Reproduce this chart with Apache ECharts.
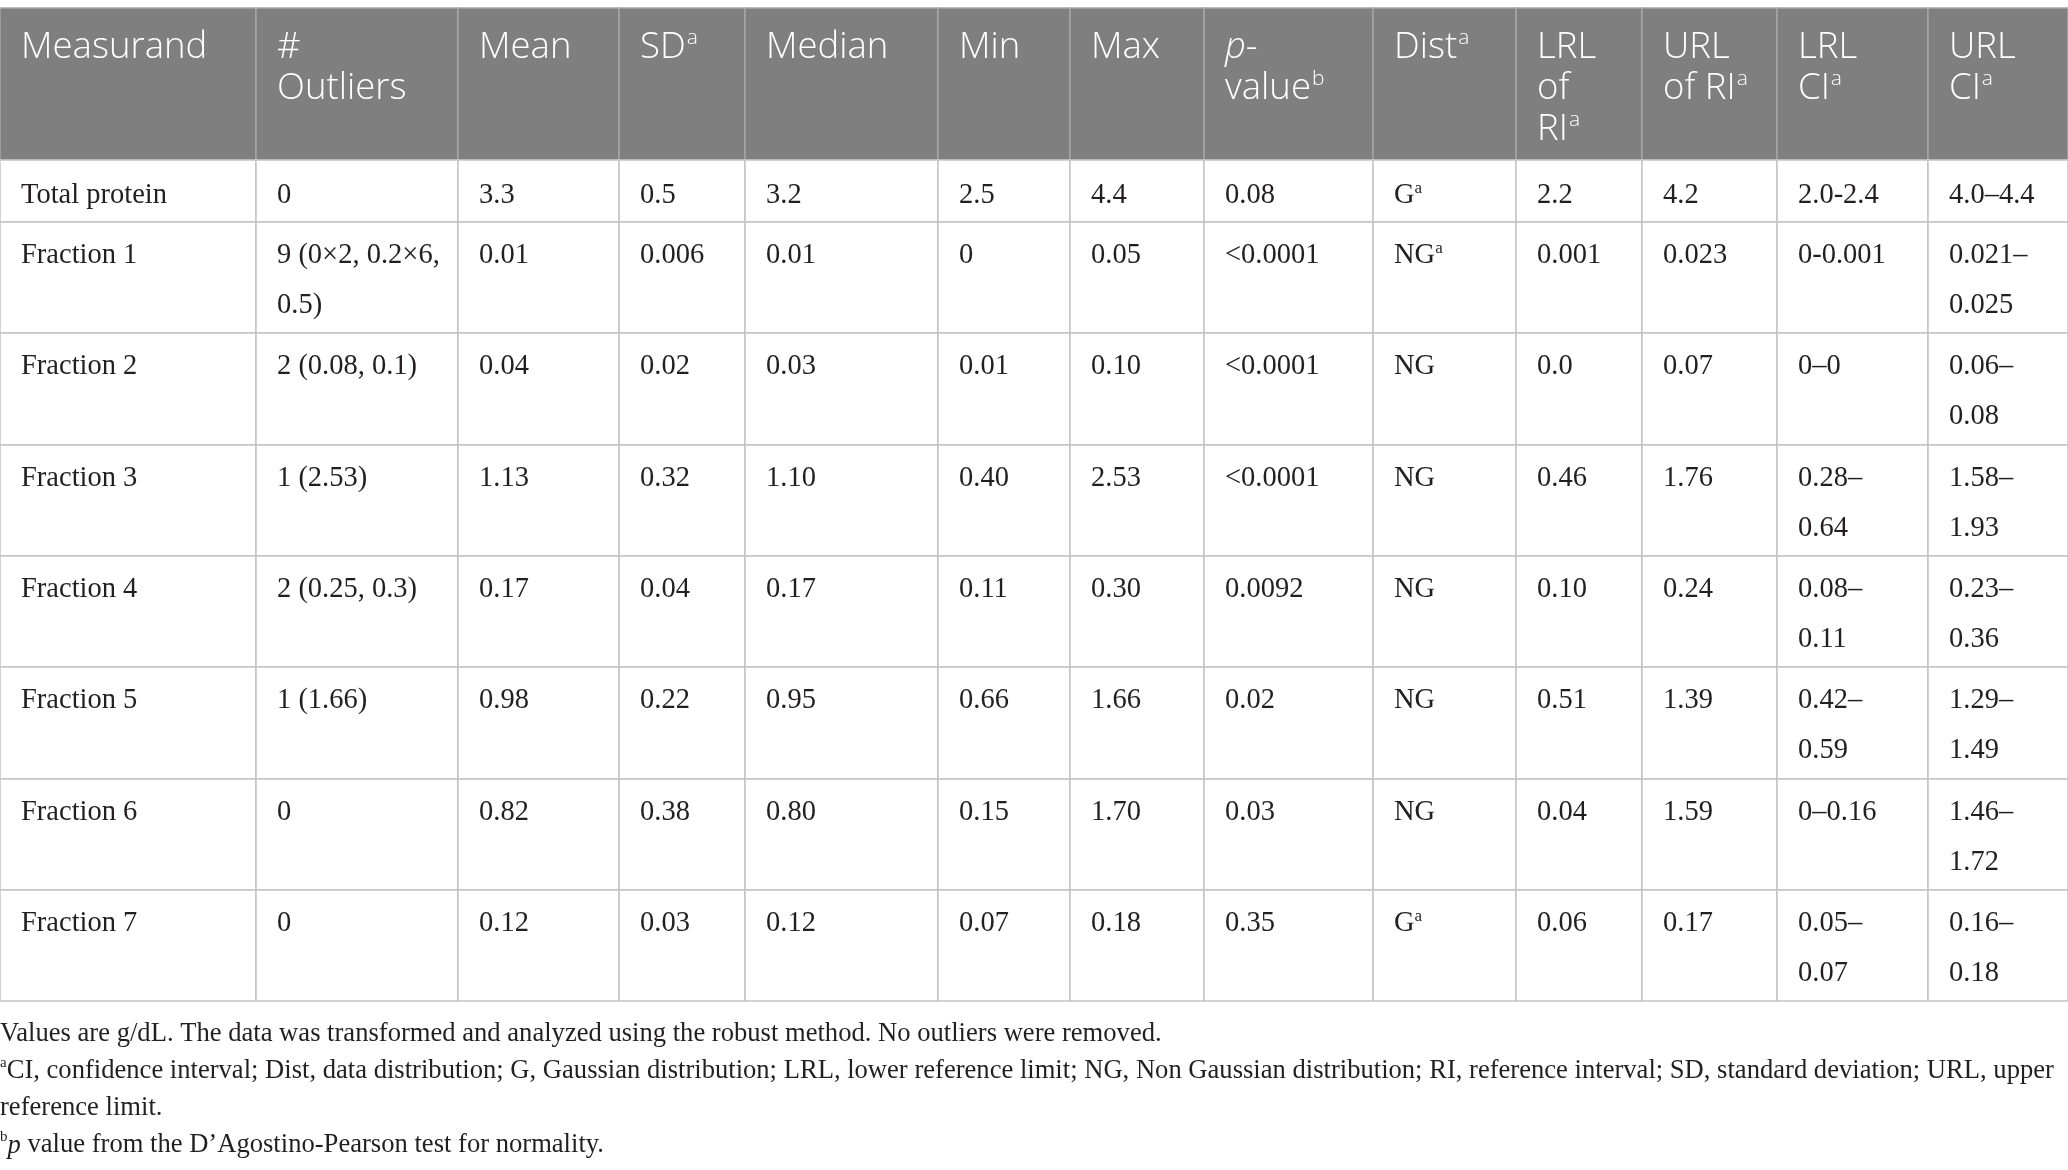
<!DOCTYPE html>
<html>
<head>
<meta charset="utf-8">
<title>Reference intervals of protein fractions</title>
<script src="https://cdn.jsdelivr.net/npm/echarts@6/dist/echarts.min.js"></script>
<style>
html, body { margin: 0; padding: 0; background: #fff; }
#main { width: 2068px; height: 1170px; }
</style>
</head>
<body>
<div id="main"></div>
<script>
// header labels ({sup|..} = superscript, {it|..} = italic)
var headers = ['Measurand', '#\nOutliers', 'Mean', 'SD{sup|a}', 'Median', 'Min', 'Max',
  '{it|p}-\nvalue{sup|b}', 'Dist{sup|a}', 'LRL\nof\nRI{sup|a}', 'URL\nof RI{sup|a}', 'LRL\nCI{sup|a}', 'URL\nCI{sup|a}'];

var measurands = ['Total protein', 'Fraction 1', 'Fraction 2', 'Fraction 3', 'Fraction 4', 'Fraction 5', 'Fraction 6', 'Fraction 7'];
var outliers = ['0', '9 (0×2, 0.2×6, 0.5)', '2 (0.08, 0.1)', '1 (2.53)', '2 (0.25, 0.3)', '1 (1.66)', '0', '0'];
var means = ['3.3', '0.01', '0.04', '1.13', '0.17', '0.98', '0.82', '0.12'];
var sds = ['0.5', '0.006', '0.02', '0.32', '0.04', '0.22', '0.38', '0.03'];
var medians = ['3.2', '0.01', '0.03', '1.10', '0.17', '0.95', '0.80', '0.12'];
var mins = ['2.5', '0', '0.01', '0.40', '0.11', '0.66', '0.15', '0.07'];
var maxs = ['4.4', '0.05', '0.10', '2.53', '0.30', '1.66', '1.70', '0.18'];
var pValues = ['0.08', '<0.0001', '<0.0001', '<0.0001', '0.0092', '0.02', '0.03', '0.35'];
var dists = ['G{sup|a}', 'NG{sup|a}', 'NG', 'NG', 'NG', 'NG', 'NG', 'G{sup|a}'];
var lrlRI = ['2.2', '0.001', '0.0', '0.46', '0.10', '0.51', '0.04', '0.06'];
var urlRI = ['4.2', '0.023', '0.07', '1.76', '0.24', '1.39', '1.59', '0.17'];
var lrlCI = ['2.0-2.4', '0-0.001', '0–0', '0.28–0.64', '0.08–0.11', '0.42–0.59', '0–0.16', '0.05–0.07'];
var urlCI = ['4.0–4.4', '0.021–0.025', '0.06–0.08', '1.58–1.93', '0.23–0.36', '1.29–1.49', '1.46–1.72', '0.16–0.18'];

var notes = [
  'Values are g/dL. The data was transformed and analyzed using the robust method. No outliers were removed.',
  '{sup|a}CI, confidence interval; Dist, data distribution; G, Gaussian distribution; LRL, lower reference limit; NG, Non Gaussian distribution; RI, reference interval; SD, standard deviation; URL, upper reference limit.',
  '{sup|b}{it|p} value from the D\u2019Agostino-Pearson test for normality.'
];

var columns = [measurands, outliers, means, sds, medians, mins, maxs, pValues, dists, lrlRI, urlRI, lrlCI, urlCI];

// layout
var W = 2068, H = 1170;
var colWidths = [256, 202, 161, 126, 193, 132, 134, 169, 143, 126, 135, 151, 140];
var rowHeights = [152, 62, 111, 112, 111, 111, 112, 111, 111];
var tableTop = 8;
var padLeft = 21, padRight = 18;

var bodyFont = '28.5px "Liberation Serif", "DejaVu Serif", serif';
var noteFont = '26.6px "Liberation Serif", "DejaVu Serif", serif';

var colEdges = [0];
colWidths.forEach(function (w) { colEdges.push(colEdges[colEdges.length - 1] + w); });
var rowEdges = [tableTop];
rowHeights.forEach(function (h) { rowEdges.push(rowEdges[rowEdges.length - 1] + h); });

var ctx = document.createElement('canvas').getContext('2d');
function plain(s) { return s.replace(/\{\w+\|([^}]*)\}/g, '$1'); }

// greedy wrap on spaces and dashes, measured with the cell font
function wrapText(text, avail, font) {
  ctx.font = font;
  var lines = [], rest = text;
  while (ctx.measureText(plain(rest)).width > avail) {
    var cut = -1, skip = 0;
    for (var i = 1; i < rest.length; i++) {
      var ch = rest.charAt(i);
      if (ch === ' ' && ctx.measureText(plain(rest.slice(0, i))).width <= avail) { cut = i; skip = 1; }
      if ((ch === '–' || ch === '-') && ctx.measureText(plain(rest.slice(0, i + 1))).width <= avail) { cut = i + 1; skip = 0; }
    }
    if (cut < 0) break;
    lines.push(rest.slice(0, cut));
    rest = rest.slice(cut + skip);
  }
  lines.push(rest);
  return lines.join('\n');
}

var cells = [];
for (var r = 0; r < rowHeights.length; r++) {
  for (var c = 0; c < colWidths.length; c++) cells.push([c, r]);
}

var headRich = {
  sup: { fontSize: 21, lineHeight: 41, verticalAlign: 'top', padding: [1, 0, 0, 1], fill: '#fff', fontFamily: 'Open Sans', fontWeight: 300 },
  it: { fontStyle: 'italic', fontSize: 36.5, lineHeight: 41, fill: '#fff', fontFamily: 'Open Sans', fontWeight: 300 }
};
var bodyRich = {
  sup: { fontSize: 17, lineHeight: 50, verticalAlign: 'top', padding: [9.5, 0, 0, 0], fill: '#231f20', fontFamily: 'Liberation Serif' }
};

var chart = echarts.init(document.getElementById('main'), null, { renderer: 'canvas' });

chart.setOption({
  animation: false,
  backgroundColor: '#fff',
  grid: { left: 0, right: 0, top: 0, bottom: 0 },
  xAxis: { type: 'value', min: 0, max: W, show: false },
  yAxis: { type: 'value', min: 0, max: H, inverse: true, show: false },
  graphic: [{
    type: 'text',
    left: 0,
    top: rowEdges[rowEdges.length - 1] + 15,
    style: {
      text: notes.map(function (n) { return wrapText(n, W - 2, noteFont); }).join('\n'),
      font: noteFont,
      fill: '#231f20',
      lineHeight: 37,
      rich: {
        sup: { fontSize: 15, lineHeight: 37, verticalAlign: 'top', padding: [3, 0, 0, 0], fill: '#231f20', fontFamily: 'Liberation Serif' },
        it: { fontStyle: 'italic', fontSize: 26.6, lineHeight: 37, fill: '#231f20', fontFamily: 'Liberation Serif' }
      }
    }
  }],
  series: [{
    type: 'custom',
    coordinateSystem: 'cartesian2d',
    data: cells,
    renderItem: function (params, api) {
      var c = api.value(0), r = api.value(1);
      var p0 = api.coord([colEdges[c], rowEdges[r]]);
      var p1 = api.coord([colEdges[c + 1], rowEdges[r + 1]]);
      var head = r === 0;
      var text = head ? headers[c] : wrapText(columns[c][r - 1], colWidths[c] - padLeft - padRight, bodyFont);
      var textStyle = head ? {
        text: text,
        fontFamily: 'Open Sans',
        fontWeight: 300,
        fontSize: 36.5,
        lineHeight: 41,
        fill: '#fff',
        verticalAlign: 'top',
        rich: headRich
      } : {
        text: text,
        font: bodyFont,
        lineHeight: 50,
        fill: '#231f20',
        verticalAlign: 'top',
        rich: bodyRich
      };
      return {
        type: 'group',
        children: [{
          type: 'rect',
          shape: { x: p0[0], y: p0[1], width: p1[0] - p0[0], height: p1[1] - p0[1] },
          style: { fill: head ? '#7f7f7f' : '#fff', stroke: head ? '#a6a6a6' : '#c3c3c3', lineWidth: 1.5 }
        }, {
          type: 'text',
          x: p0[0] + padLeft,
          y: p0[1] + (head ? 19 : (r === 1 ? 11 : 9)),
          style: textStyle
        }]
      };
    }
  }]
});
</script>
</body>
</html>
